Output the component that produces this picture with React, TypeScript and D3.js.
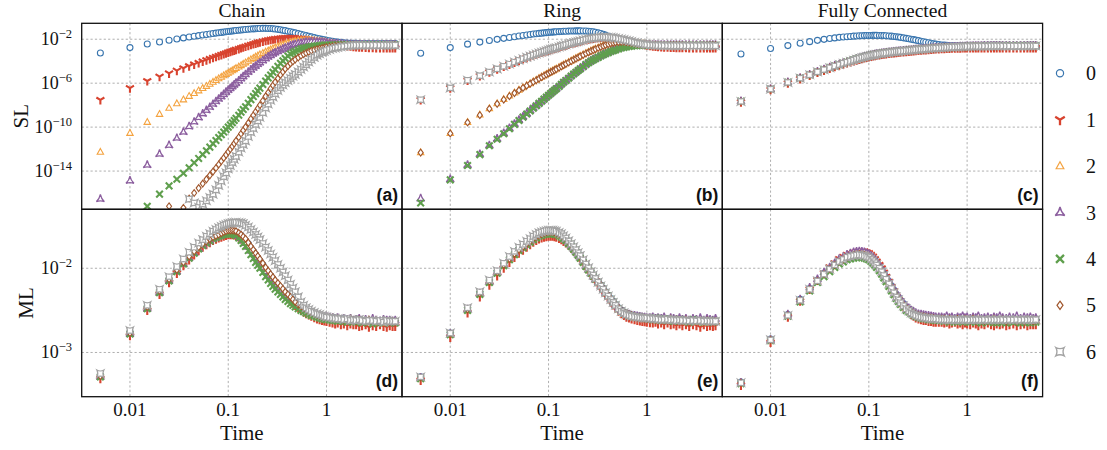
import React from 'react';
import * as d3 from 'd3';

// ---------------- data (log10 of the plotted quantity) ----------------
const TIMES = [0.005, 0.01, 0.015, 0.02, 0.025, 0.03, 0.035, 0.04, 0.045, 0.05,
  0.055, 0.06, 0.065, 0.07, 0.075, 0.08, 0.085, 0.09, 0.095, 0.1,
  0.105, 0.11, 0.115, 0.12, 0.128, 0.135, 0.142, 0.15, 0.16, 0.17,
  0.18, 0.19, 0.2, 0.21, 0.225, 0.24, 0.255, 0.27, 0.285, 0.3,
  0.32, 0.34, 0.36, 0.38, 0.405, 0.43, 0.455, 0.48, 0.515, 0.55,
  0.585, 0.62, 0.66, 0.7, 0.75, 0.8, 0.85, 0.9, 0.95, 1,
  1.075, 1.15, 1.225, 1.3, 1.4, 1.5, 1.625, 1.75, 1.875, 2,
  2.15, 2.3, 2.5, 2.7, 2.95, 3.2, 3.5, 3.8, 4.1, 4.4, 4.7, 5];

const SERIES_LABELS = ['0', '1', '2', '3', '4', '5', '6'];
const PANEL_TITLES = ['Chain', 'Ring', 'Fully Connected'];
const PANEL_TAGS = ['(a)', '(b)', '(c)', '(d)', '(e)', '(f)'];
const ROW_LABELS = ['SL', 'ML'];
const X_TICKS = [0.01, 0.1, 1];
const X_TICK_LABELS = ['0.01', '0.1', '1'];
const SL_TICK_EXPS = [-2, -6, -10, -14];
const ML_TICK_EXPS = [-2, -3];
const X_LABEL = 'Time';

// ---- SL, Chain ----
const SL_CHAIN_0 = [-3.25,-2.76,-2.43,-2.25,-2.09,-1.98,-1.88,-1.80,-1.73,-1.67,
  -1.62,-1.57,-1.52,-1.48,-1.44,-1.41,-1.38,-1.35,-1.32,-1.29,
  -1.27,-1.25,-1.23,-1.21,-1.185,-1.16,-1.14,-1.12,-1.09,-1.07,
  -1.055,-1.04,-1.03,-1.02,-1.01,-1.01,-1.02,-1.03,-1.05,-1.07,
  -1.10,-1.14,-1.18,-1.22,-1.27,-1.32,-1.37,-1.42,-1.49,-1.55,
  -1.61,-1.67,-1.73,-1.79,-1.85,-1.91,-1.96,-2.01,-2.05,-2.09,
  -2.14,-2.19,-2.23,-2.26,-2.29,-2.32,-2.34,-2.36,-2.37,-2.38,
  -2.385,-2.39,-2.395,-2.40,-2.40,-2.40,-2.40,-2.40,-2.40,-2.40,-2.40,-2.40];
const SL_CHAIN_1 = [-7.52,-6.45,-5.80,-5.40,-5.10,-4.85,-4.64,-4.45,-4.29,-4.15,
  -4.02,-3.90,-3.79,-3.68,-3.59,-3.50,-3.42,-3.34,-3.27,-3.20,
  -3.13,-3.07,-3.01,-2.95,-2.87,-2.80,-2.73,-2.66,-2.58,-2.50,
  -2.43,-2.37,-2.31,-2.26,-2.19,-2.13,-2.08,-2.04,-2.00,-1.97,
  -1.94,-1.91,-1.89,-1.88,-1.87,-1.87,-1.88,-1.89,-1.91,-1.94,
  -1.97,-2.00,-2.03,-2.07,-2.11,-2.16,-2.20,-2.24,-2.28,-2.31,
  -2.36,-2.41,-2.45,-2.49,-2.53,-2.57,-2.61,-2.64,-2.67,-2.69,
  -2.71,-2.73,-2.75,-2.76,-2.77,-2.78,-2.78,-2.78,-2.79,-2.79,-2.79,-2.79];
const SL_CHAIN_2 = [-12.27,-10.55,-9.55,-8.82,-8.27,-7.85,-7.50,-7.18,-6.92,-6.68,
  -6.47,-6.27,-6.08,-5.90,-5.74,-5.58,-5.44,-5.30,-5.18,-5.07,
  -4.96,-4.85,-4.75,-4.65,-4.51,-4.38,-4.26,-4.13,-3.99,-3.85,
  -3.72,-3.60,-3.50,-3.40,-3.27,-3.15,-3.04,-2.94,-2.85,-2.77,
  -2.67,-2.58,-2.50,-2.43,-2.35,-2.28,-2.22,-2.17,-2.12,-2.09,
  -2.08,-2.07,-2.08,-2.09,-2.11,-2.14,-2.17,-2.20,-2.23,-2.26,
  -2.30,-2.34,-2.37,-2.40,-2.43,-2.46,-2.48,-2.50,-2.52,-2.53,
  -2.535,-2.54,-2.545,-2.55,-2.55,-2.55,-2.55,-2.55,-2.55,-2.55,-2.55,-2.55];
const SL_CHAIN_3 = [-16.55,-14.88,-13.45,-12.45,-11.65,-11.00,-10.45,-9.95,-9.52,-9.13,
  -8.78,-8.47,-8.18,-7.91,-7.66,-7.43,-7.21,-7.01,-6.81,-6.63,
  -6.46,-6.30,-6.14,-5.99,-5.78,-5.58,-5.39,-5.20,-4.98,-4.78,
  -4.60,-4.43,-4.27,-4.13,-3.94,-3.76,-3.60,-3.46,-3.33,-3.22,
  -3.10,-2.99,-2.89,-2.80,-2.70,-2.60,-2.53,-2.46,-2.39,-2.33,
  -2.29,-2.26,-2.24,-2.23,-2.23,-2.24,-2.26,-2.28,-2.30,-2.32,
  -2.35,-2.38,-2.40,-2.42,-2.44,-2.46,-2.47,-2.48,-2.49,-2.50,
  -2.50,-2.50,-2.50,-2.50,-2.50,-2.50,-2.50,-2.50,-2.50,-2.50,-2.50,-2.50];
const SL_CHAIN_4 = [null,null,-17.2,-16.1,-15.35,-14.75,-14.2,-13.7,-13.25,-12.85,
  -12.49,-12.15,-11.82,-11.5,-11.22,-10.95,-10.70,-10.45,-10.22,-10.0,
  -9.80,-9.6,-9.40,-9.2,-8.92,-8.65,-8.40,-8.15,-7.82,-7.5,
  -7.22,-6.95,-6.70,-6.45,-6.12,-5.8,-5.52,-5.25,-5.0,-4.75,
  -4.47,-4.2,-3.97,-3.75,-3.54,-3.35,-3.22,-3.1,-2.98,-2.88,
  -2.81,-2.75,-2.70,-2.66,-2.63,-2.6,-2.58,-2.56,-2.54,-2.53,
  -2.52,-2.51,-2.505,-2.5,-2.5,-2.5,-2.5,-2.5,-2.5,-2.5,
  -2.5,-2.5,-2.5,-2.5,-2.5,-2.5,-2.5,-2.5,-2.5,-2.5,-2.5,-2.5];
const SL_CHAIN_5 = [null,null,null,null,-17.2,null,-17.35,-16.5,-16.0,-15.55,
  -15.14,-14.75,-14.39,-14.05,-13.72,-13.4,-13.09,-12.8,-12.52,-12.25,
  -12.0,-11.75,-11.5,-11.25,-10.92,-10.6,-10.3,-10.0,-9.62,-9.25,
  -8.92,-8.6,-8.3,-8.0,-7.6,-7.2,-6.85,-6.5,-6.2,-5.9,
  -5.57,-5.25,-4.97,-4.7,-4.45,-4.2,-4.02,-3.85,-3.67,-3.5,
  -3.37,-3.25,-3.15,-3.05,-2.97,-2.9,-2.85,-2.8,-2.76,-2.72,
  -2.68,-2.65,-2.62,-2.6,-2.58,-2.57,-2.56,-2.55,-2.55,-2.55,
  -2.55,-2.55,-2.55,-2.55,-2.55,-2.55,-2.55,-2.55,-2.55,-2.55,-2.55,-2.55];
const SL_CHAIN_6 = [null,null,null,null,null,null,null,-16.55,-16.9,-17.3,
  -17.0,-16.7,-16.4,-16.1,-15.7,-15.3,-14.9,-14.5,-14.15,-13.8,
  -13.5,-13.2,-12.92,-12.65,-12.27,-11.9,-11.57,-11.25,-10.85,-10.45,
  -10.1,-9.75,-9.42,-9.1,-8.67,-8.25,-7.9,-7.55,-7.25,-6.95,
  -6.67,-6.4,-6.17,-5.95,-5.75,-5.55,-5.37,-5.2,-4.97,-4.75,
  -4.52,-4.3,-4.07,-3.85,-3.65,-3.45,-3.32,-3.2,-3.11,-3.02,
  -2.93,-2.85,-2.79,-2.74,-2.69,-2.65,-2.61,-2.58,-2.56,-2.55,
  -2.55,-2.55,-2.55,-2.55,-2.55,-2.55,-2.55,-2.55,-2.55,-2.55,-2.55,-2.55];

// ---- SL, Ring ----
const SL_RING_0 = [-3.27,-2.76,-2.45,-2.26,-2.12,-2.01,-1.92,-1.84,-1.77,-1.71,
  -1.66,-1.61,-1.57,-1.53,-1.50,-1.47,-1.445,-1.42,-1.40,-1.38,
  -1.365,-1.35,-1.335,-1.32,-1.305,-1.29,-1.28,-1.27,-1.26,-1.25,
  -1.245,-1.24,-1.24,-1.24,-1.245,-1.25,-1.27,-1.29,-1.32,-1.36,
  -1.42,-1.48,-1.55,-1.63,-1.73,-1.83,-1.92,-2.01,-2.12,-2.22,
  -2.30,-2.36,-2.41,-2.46,-2.49,-2.52,-2.54,-2.55,-2.56,-2.57,
  -2.575,-2.58,-2.58,-2.58,-2.58,-2.58,-2.58,-2.58,-2.58,-2.58,
  -2.58,-2.58,-2.58,-2.58,-2.58,-2.58,-2.58,-2.58,-2.58,-2.58,-2.58,-2.58];
const SL_RING_1 = [-7.52,-6.45,-5.75,-5.33,-5.00,-4.72,-4.48,-4.28,-4.10,-3.94,
  -3.80,-3.67,-3.56,-3.46,-3.37,-3.28,-3.20,-3.13,-3.06,-3.00,
  -2.94,-2.89,-2.84,-2.79,-2.72,-2.65,-2.59,-2.53,-2.46,-2.39,
  -2.33,-2.27,-2.22,-2.17,-2.10,-2.04,-1.99,-1.95,-1.92,-1.89,
  -1.86,-1.84,-1.83,-1.83,-1.84,-1.85,-1.87,-1.90,-1.95,-2.00,
  -2.05,-2.11,-2.17,-2.23,-2.30,-2.36,-2.41,-2.46,-2.50,-2.54,
  -2.58,-2.62,-2.65,-2.67,-2.69,-2.71,-2.73,-2.74,-2.75,-2.76,
  -2.765,-2.77,-2.775,-2.78,-2.78,-2.78,-2.785,-2.79,-2.79,-2.79,-2.79,-2.79];
const SL_RING_2 = [-12.30,-10.55,-9.55,-8.88,-8.30,-7.85,-7.47,-7.15,-6.87,-6.62,
  -6.40,-6.20,-6.02,-5.85,-5.70,-5.55,-5.42,-5.29,-5.18,-5.07,
  -4.97,-4.87,-4.78,-4.69,-4.56,-4.44,-4.33,-4.22,-4.09,-3.96,
  -3.84,-3.73,-3.63,-3.53,-3.40,-3.27,-3.16,-3.05,-2.96,-2.87,
  -2.77,-2.67,-2.58,-2.50,-2.42,-2.35,-2.30,-2.26,-2.23,-2.22,
  -2.225,-2.24,-2.27,-2.30,-2.34,-2.38,-2.41,-2.44,-2.46,-2.48,
  -2.50,-2.52,-2.53,-2.54,-2.545,-2.55,-2.55,-2.55,-2.55,-2.55,
  -2.55,-2.55,-2.55,-2.55,-2.55,-2.55,-2.55,-2.55,-2.55,-2.55,-2.55,-2.55];
const SL_RING_3 = [-16.50,-14.75,-13.45,-12.46,-11.66,-11.06,-10.56,-10.11,-9.71,-9.36,
  -9.05,-8.76,-8.49,-8.24,-8.01,-7.80,-7.60,-7.41,-7.23,-7.06,
  -6.90,-6.74,-6.60,-6.46,-6.26,-6.06,-5.88,-5.71,-5.51,-5.31,
  -5.13,-4.96,-4.81,-4.66,-4.46,-4.26,-4.10,-3.96,-3.85,-3.74,
  -3.61,-3.48,-3.38,-3.28,-3.18,-3.08,-3.01,-2.94,-2.85,-2.77,
  -2.72,-2.67,-2.63,-2.60,-2.58,-2.56,-2.55,-2.54,-2.535,-2.53,
  -2.53,-2.53,-2.53,-2.53,-2.53,-2.53,-2.53,-2.53,-2.53,-2.53,
  -2.53,-2.53,-2.53,-2.53,-2.53,-2.53,-2.53,-2.53,-2.53,-2.53,-2.53,-2.53];
const SL_RING_4 = [-16.90,-14.80,-13.50,-12.50,-11.70,-11.10,-10.60,-10.15,-9.75,-9.40,
  -9.09,-8.80,-8.53,-8.28,-8.05,-7.84,-7.64,-7.45,-7.27,-7.10,
  -6.94,-6.78,-6.64,-6.50,-6.30,-6.10,-5.92,-5.75,-5.55,-5.35,
  -5.17,-5.00,-4.85,-4.70,-4.50,-4.30,-4.14,-4.00,-3.89,-3.78,
  -3.65,-3.52,-3.42,-3.32,-3.22,-3.12,-3.05,-2.98,-2.88,-2.80,
  -2.75,-2.70,-2.66,-2.63,-2.60,-2.58,-2.57,-2.56,-2.555,-2.55,
  -2.55,-2.55,-2.55,-2.55,-2.55,-2.55,-2.55,-2.55,-2.55,-2.55,
  -2.55,-2.55,-2.55,-2.55,-2.55,-2.55,-2.55,-2.55,-2.55,-2.55,-2.55,-2.55];
const SL_RING_5 = [-12.32,-10.58,-9.58,-8.91,-8.33,-7.88,-7.50,-7.18,-6.90,-6.65,
  -6.43,-6.23,-6.05,-5.88,-5.73,-5.58,-5.45,-5.32,-5.21,-5.10,
  -5.00,-4.90,-4.81,-4.72,-4.59,-4.47,-4.36,-4.25,-4.12,-3.99,
  -3.87,-3.76,-3.66,-3.56,-3.43,-3.30,-3.19,-3.08,-2.99,-2.90,
  -2.80,-2.70,-2.61,-2.53,-2.45,-2.38,-2.33,-2.29,-2.26,-2.25,
  -2.255,-2.27,-2.29,-2.32,-2.36,-2.40,-2.43,-2.46,-2.48,-2.50,
  -2.515,-2.53,-2.54,-2.55,-2.555,-2.56,-2.56,-2.56,-2.56,-2.56,
  -2.56,-2.56,-2.56,-2.56,-2.56,-2.56,-2.56,-2.56,-2.56,-2.56,-2.56,-2.56];
const SL_RING_6 = [-7.50,-6.43,-5.73,-5.31,-4.98,-4.70,-4.46,-4.26,-4.08,-3.92,
  -3.78,-3.65,-3.54,-3.44,-3.35,-3.26,-3.18,-3.11,-3.04,-2.98,
  -2.92,-2.87,-2.82,-2.77,-2.70,-2.63,-2.57,-2.51,-2.44,-2.37,
  -2.31,-2.25,-2.20,-2.15,-2.08,-2.02,-1.97,-1.93,-1.90,-1.87,
  -1.84,-1.82,-1.81,-1.81,-1.82,-1.83,-1.85,-1.88,-1.93,-1.98,
  -2.03,-2.09,-2.15,-2.21,-2.27,-2.33,-2.38,-2.42,-2.46,-2.49,
  -2.52,-2.54,-2.56,-2.57,-2.575,-2.58,-2.585,-2.59,-2.59,-2.59,
  -2.59,-2.59,-2.59,-2.59,-2.59,-2.59,-2.59,-2.59,-2.59,-2.59,-2.59,-2.59];

// ---- SL, Fully connected ----
const SL_FULL_0 = [-3.34,-2.85,-2.58,-2.37,-2.22,-2.10,-2.01,-1.94,-1.88,-1.83,
  -1.80,-1.77,-1.745,-1.72,-1.705,-1.69,-1.68,-1.67,-1.665,-1.66,
  -1.655,-1.65,-1.65,-1.65,-1.655,-1.66,-1.67,-1.68,-1.70,-1.72,
  -1.745,-1.77,-1.80,-1.83,-1.875,-1.92,-1.96,-2.00,-2.04,-2.08,
  -2.13,-2.18,-2.23,-2.27,-2.32,-2.37,-2.41,-2.45,-2.49,-2.52,
  -2.54,-2.56,-2.57,-2.58,-2.585,-2.59,-2.595,-2.60,-2.60,-2.60,
  -2.60,-2.60,-2.60,-2.60,-2.60,-2.60,-2.60,-2.60,-2.60,-2.60,
  -2.60,-2.60,-2.60,-2.60,-2.60,-2.60,-2.60,-2.60,-2.60,-2.60,-2.60,-2.60];
const SL_FULL_1 = [-7.72,-6.60,-5.99,-5.60,-5.30,-5.03,-4.83,-4.65,-4.50,-4.37,
  -4.26,-4.16,-4.07,-3.98,-3.90,-3.83,-3.76,-3.70,-3.65,-3.60,
  -3.56,-3.52,-3.49,-3.46,-3.425,-3.39,-3.36,-3.33,-3.30,-3.27,
  -3.245,-3.22,-3.20,-3.18,-3.155,-3.13,-3.105,-3.08,-3.06,-3.04,
  -3.02,-3.00,-2.98,-2.96,-2.94,-2.92,-2.905,-2.89,-2.875,-2.86,
  -2.85,-2.84,-2.83,-2.82,-2.815,-2.81,-2.805,-2.80,-2.795,-2.79,
  -2.785,-2.78,-2.78,-2.78,-2.78,-2.78,-2.78,-2.78,-2.78,-2.78,
  -2.78,-2.78,-2.78,-2.78,-2.78,-2.78,-2.78,-2.78,-2.78,-2.78,-2.78,-2.78];
const SL_FULL_2 = [-7.67,-6.55,-5.94,-5.55,-5.25,-4.98,-4.78,-4.60,-4.45,-4.32,
  -4.20,-4.10,-4.01,-3.92,-3.84,-3.77,-3.70,-3.64,-3.59,-3.54,
  -3.50,-3.46,-3.42,-3.39,-3.355,-3.32,-3.29,-3.26,-3.23,-3.20,
  -3.175,-3.15,-3.13,-3.11,-3.085,-3.06,-3.035,-3.01,-2.99,-2.97,
  -2.95,-2.93,-2.91,-2.89,-2.87,-2.85,-2.835,-2.82,-2.805,-2.79,
  -2.775,-2.76,-2.75,-2.74,-2.73,-2.72,-2.71,-2.70,-2.69,-2.68,
  -2.67,-2.66,-2.655,-2.65,-2.645,-2.64,-2.635,-2.63,-2.625,-2.62,
  -2.62,-2.62,-2.62,-2.62,-2.62,-2.62,-2.62,-2.62,-2.62,-2.62,-2.62,-2.62];
const SL_FULL_3 = [-7.64,-6.52,-5.91,-5.52,-5.22,-4.95,-4.75,-4.57,-4.42,-4.29,
  -4.17,-4.06,-3.97,-3.88,-3.80,-3.73,-3.66,-3.60,-3.55,-3.50,
  -3.46,-3.42,-3.38,-3.35,-3.315,-3.28,-3.25,-3.22,-3.19,-3.16,
  -3.135,-3.11,-3.09,-3.07,-3.045,-3.02,-2.995,-2.97,-2.95,-2.93,
  -2.91,-2.89,-2.87,-2.85,-2.83,-2.81,-2.795,-2.78,-2.765,-2.75,
  -2.735,-2.72,-2.71,-2.70,-2.69,-2.68,-2.67,-2.66,-2.65,-2.64,
  -2.63,-2.62,-2.615,-2.61,-2.605,-2.60,-2.595,-2.59,-2.585,-2.58,
  -2.58,-2.58,-2.58,-2.58,-2.58,-2.58,-2.58,-2.58,-2.58,-2.58,-2.58,-2.58];
const SL_FULL_4 = [-7.65,-6.53,-5.92,-5.53,-5.23,-4.96,-4.76,-4.58,-4.43,-4.30,
  -4.18,-4.07,-3.98,-3.89,-3.81,-3.74,-3.67,-3.61,-3.56,-3.51,
  -3.47,-3.43,-3.39,-3.36,-3.325,-3.29,-3.26,-3.23,-3.20,-3.17,
  -3.145,-3.12,-3.10,-3.08,-3.055,-3.03,-3.005,-2.98,-2.96,-2.94,
  -2.92,-2.90,-2.88,-2.86,-2.84,-2.82,-2.805,-2.79,-2.775,-2.76,
  -2.745,-2.73,-2.72,-2.71,-2.70,-2.69,-2.68,-2.67,-2.66,-2.65,
  -2.64,-2.63,-2.625,-2.62,-2.615,-2.61,-2.605,-2.60,-2.595,-2.59,
  -2.59,-2.59,-2.59,-2.59,-2.59,-2.59,-2.59,-2.59,-2.59,-2.59,-2.59,-2.59];
const SL_FULL_5 = [-7.68,-6.56,-5.95,-5.56,-5.26,-4.99,-4.79,-4.61,-4.46,-4.33,
  -4.21,-4.11,-4.02,-3.93,-3.85,-3.78,-3.71,-3.65,-3.60,-3.55,
  -3.51,-3.47,-3.43,-3.40,-3.365,-3.33,-3.30,-3.27,-3.24,-3.21,
  -3.185,-3.16,-3.14,-3.12,-3.095,-3.07,-3.045,-3.02,-3.00,-2.98,
  -2.96,-2.94,-2.92,-2.90,-2.88,-2.86,-2.845,-2.83,-2.815,-2.80,
  -2.785,-2.77,-2.76,-2.75,-2.74,-2.73,-2.72,-2.71,-2.70,-2.69,
  -2.68,-2.67,-2.665,-2.66,-2.655,-2.65,-2.645,-2.64,-2.635,-2.63,
  -2.63,-2.63,-2.63,-2.63,-2.63,-2.63,-2.63,-2.63,-2.63,-2.63,-2.63,-2.63];
const SL_FULL_6 = [-7.66,-6.54,-5.93,-5.54,-5.24,-4.97,-4.77,-4.59,-4.44,-4.31,
  -4.19,-4.09,-4.00,-3.91,-3.83,-3.76,-3.69,-3.63,-3.58,-3.53,
  -3.49,-3.45,-3.41,-3.38,-3.345,-3.31,-3.28,-3.25,-3.22,-3.19,
  -3.165,-3.14,-3.12,-3.10,-3.075,-3.05,-3.025,-3.00,-2.98,-2.96,
  -2.94,-2.92,-2.90,-2.88,-2.86,-2.84,-2.825,-2.81,-2.795,-2.78,
  -2.765,-2.75,-2.735,-2.72,-2.71,-2.70,-2.69,-2.68,-2.67,-2.66,
  -2.655,-2.65,-2.645,-2.64,-2.635,-2.63,-2.625,-2.62,-2.62,-2.62,
  -2.62,-2.62,-2.62,-2.62,-2.62,-2.62,-2.62,-2.62,-2.62,-2.62,-2.62,-2.62];

// ---- ML, Chain ----
const ML_CHAIN_0 = [-3.27,-2.76,-2.46,-2.27,-2.13,-2.02,-1.93,-1.86,-1.80,-1.75,
  -1.71,-1.68,-1.65,-1.63,-1.61,-1.60,-1.59,-1.58,-1.575,-1.57,
  -1.565,-1.56,-1.565,-1.57,-1.59,-1.61,-1.64,-1.67,-1.71,-1.76,
  -1.80,-1.84,-1.875,-1.91,-1.96,-2.01,-2.05,-2.09,-2.125,-2.16,
  -2.195,-2.23,-2.26,-2.29,-2.32,-2.35,-2.375,-2.40,-2.43,-2.45,
  -2.47,-2.49,-2.505,-2.52,-2.535,-2.55,-2.56,-2.57,-2.575,-2.58,
  -2.59,-2.585,-2.60,-2.60,-2.61,-2.60,-2.62,-2.61,-2.615,-2.62,
  -2.61,-2.63,-2.62,-2.62,-2.64,-2.62,-2.63,-2.63,-2.64,-2.62,-2.64,-2.64];
const ML_CHAIN_1 = [-3.31,-2.80,-2.50,-2.31,-2.17,-2.06,-1.97,-1.90,-1.84,-1.79,
  -1.75,-1.72,-1.695,-1.67,-1.655,-1.64,-1.63,-1.62,-1.61,-1.60,
  -1.60,-1.60,-1.605,-1.61,-1.63,-1.65,-1.68,-1.71,-1.75,-1.80,
  -1.84,-1.88,-1.915,-1.95,-2.00,-2.05,-2.09,-2.13,-2.165,-2.20,
  -2.235,-2.27,-2.30,-2.33,-2.36,-2.39,-2.415,-2.44,-2.47,-2.50,
  -2.52,-2.54,-2.555,-2.57,-2.585,-2.60,-2.61,-2.62,-2.625,-2.63,
  -2.64,-2.65,-2.66,-2.65,-2.67,-2.66,-2.68,-2.66,-2.67,-2.67,
  -2.69,-2.68,-2.67,-2.70,-2.68,-2.69,-2.67,-2.69,-2.70,-2.68,-2.69,-2.69];
const ML_CHAIN_2 = [-3.28,-2.77,-2.47,-2.28,-2.14,-2.03,-1.94,-1.87,-1.81,-1.76,
  -1.72,-1.69,-1.66,-1.64,-1.62,-1.61,-1.60,-1.59,-1.58,-1.57,
  -1.57,-1.57,-1.575,-1.58,-1.60,-1.62,-1.65,-1.68,-1.72,-1.77,
  -1.81,-1.85,-1.885,-1.92,-1.97,-2.02,-2.06,-2.10,-2.135,-2.17,
  -2.205,-2.24,-2.27,-2.30,-2.33,-2.36,-2.385,-2.41,-2.44,-2.46,
  -2.48,-2.50,-2.515,-2.53,-2.545,-2.56,-2.57,-2.58,-2.585,-2.59,
  -2.60,-2.595,-2.61,-2.60,-2.62,-2.61,-2.63,-2.61,-2.62,-2.63,
  -2.62,-2.64,-2.62,-2.63,-2.65,-2.62,-2.64,-2.63,-2.65,-2.63,-2.64,-2.64];
const ML_CHAIN_3 = [-3.29,-2.78,-2.48,-2.29,-2.15,-2.04,-1.95,-1.88,-1.82,-1.77,
  -1.73,-1.70,-1.675,-1.65,-1.635,-1.62,-1.605,-1.59,-1.585,-1.58,
  -1.58,-1.58,-1.585,-1.59,-1.615,-1.64,-1.67,-1.70,-1.745,-1.79,
  -1.83,-1.87,-1.905,-1.94,-1.99,-2.04,-2.08,-2.12,-2.155,-2.19,
  -2.225,-2.26,-2.29,-2.32,-2.345,-2.37,-2.395,-2.42,-2.44,-2.46,
  -2.48,-2.50,-2.515,-2.53,-2.54,-2.55,-2.56,-2.57,-2.575,-2.58,
  -2.585,-2.59,-2.60,-2.59,-2.61,-2.60,-2.61,-2.60,-2.62,-2.61,
  -2.60,-2.62,-2.61,-2.62,-2.60,-2.62,-2.63,-2.61,-2.62,-2.62,-2.63,-2.62];
const ML_CHAIN_4 = [-3.29,-2.78,-2.48,-2.29,-2.15,-2.04,-1.95,-1.88,-1.82,-1.77,
  -1.73,-1.70,-1.675,-1.65,-1.635,-1.62,-1.61,-1.60,-1.595,-1.59,
  -1.59,-1.59,-1.60,-1.61,-1.64,-1.67,-1.705,-1.74,-1.79,-1.84,
  -1.885,-1.93,-1.965,-2.00,-2.05,-2.10,-2.14,-2.18,-2.215,-2.25,
  -2.28,-2.31,-2.34,-2.37,-2.395,-2.42,-2.44,-2.46,-2.48,-2.50,
  -2.515,-2.53,-2.545,-2.56,-2.57,-2.58,-2.59,-2.60,-2.605,-2.61,
  -2.615,-2.62,-2.62,-2.63,-2.62,-2.63,-2.64,-2.62,-2.63,-2.64,
  -2.63,-2.65,-2.63,-2.64,-2.66,-2.64,-2.64,-2.65,-2.63,-2.65,-2.64,-2.65];
const ML_CHAIN_5 = [-3.28,-2.77,-2.46,-2.27,-2.13,-2.02,-1.93,-1.86,-1.80,-1.75,
  -1.71,-1.68,-1.655,-1.63,-1.615,-1.60,-1.585,-1.57,-1.56,-1.55,
  -1.55,-1.55,-1.555,-1.56,-1.58,-1.60,-1.625,-1.65,-1.695,-1.74,
  -1.78,-1.82,-1.855,-1.89,-1.94,-1.99,-2.03,-2.07,-2.105,-2.14,
  -2.175,-2.21,-2.245,-2.28,-2.31,-2.34,-2.37,-2.40,-2.43,-2.45,
  -2.47,-2.49,-2.505,-2.52,-2.535,-2.55,-2.56,-2.57,-2.575,-2.58,
  -2.585,-2.59,-2.60,-2.60,-2.61,-2.61,-2.62,-2.60,-2.62,-2.62,
  -2.61,-2.62,-2.63,-2.61,-2.63,-2.62,-2.64,-2.62,-2.63,-2.64,-2.63,-2.64];
const ML_CHAIN_6 = [-3.25,-2.74,-2.44,-2.25,-2.10,-1.98,-1.89,-1.81,-1.75,-1.70,
  -1.66,-1.62,-1.59,-1.56,-1.54,-1.52,-1.505,-1.49,-1.48,-1.47,
  -1.465,-1.46,-1.457,-1.455,-1.456,-1.46,-1.47,-1.49,-1.51,-1.54,
  -1.57,-1.60,-1.63,-1.66,-1.705,-1.75,-1.79,-1.83,-1.87,-1.91,
  -1.955,-2.00,-2.045,-2.09,-2.14,-2.19,-2.235,-2.28,-2.34,-2.40,
  -2.44,-2.47,-2.49,-2.51,-2.525,-2.54,-2.55,-2.56,-2.57,-2.58,
  -2.585,-2.59,-2.595,-2.60,-2.60,-2.61,-2.60,-2.62,-2.61,-2.62,
  -2.61,-2.62,-2.63,-2.62,-2.62,-2.63,-2.62,-2.64,-2.62,-2.63,-2.63,-2.63];

// ---- ML, Ring ----
const ML_RING_0 = [-3.29,-2.77,-2.48,-2.29,-2.15,-2.04,-1.95,-1.88,-1.82,-1.77,
  -1.735,-1.70,-1.67,-1.64,-1.62,-1.60,-1.59,-1.58,-1.575,-1.57,
  -1.57,-1.57,-1.575,-1.58,-1.595,-1.61,-1.63,-1.65,-1.685,-1.72,
  -1.755,-1.79,-1.825,-1.86,-1.91,-1.96,-2.005,-2.05,-2.085,-2.12,
  -2.16,-2.20,-2.24,-2.28,-2.32,-2.36,-2.395,-2.43,-2.47,-2.50,
  -2.52,-2.54,-2.55,-2.56,-2.565,-2.57,-2.575,-2.58,-2.585,-2.59,
  -2.59,-2.60,-2.59,-2.61,-2.60,-2.61,-2.60,-2.62,-2.61,-2.61,
  -2.62,-2.61,-2.63,-2.62,-2.61,-2.63,-2.62,-2.64,-2.62,-2.63,-2.62,-2.63];
const ML_RING_1 = [-3.33,-2.82,-2.53,-2.34,-2.20,-2.09,-2.00,-1.93,-1.87,-1.82,
  -1.785,-1.75,-1.72,-1.69,-1.67,-1.65,-1.64,-1.63,-1.625,-1.62,
  -1.62,-1.62,-1.625,-1.63,-1.645,-1.66,-1.68,-1.70,-1.73,-1.76,
  -1.795,-1.83,-1.865,-1.90,-1.945,-1.99,-2.035,-2.08,-2.115,-2.15,
  -2.195,-2.24,-2.28,-2.32,-2.36,-2.40,-2.435,-2.47,-2.51,-2.54,
  -2.56,-2.58,-2.59,-2.60,-2.61,-2.62,-2.625,-2.63,-2.635,-2.64,
  -2.645,-2.65,-2.64,-2.66,-2.65,-2.67,-2.65,-2.67,-2.66,-2.68,
  -2.66,-2.68,-2.67,-2.69,-2.67,-2.68,-2.70,-2.67,-2.69,-2.68,-2.69,-2.68];
const ML_RING_2 = [-3.30,-2.78,-2.49,-2.30,-2.16,-2.05,-1.96,-1.89,-1.83,-1.78,
  -1.745,-1.71,-1.68,-1.65,-1.63,-1.61,-1.60,-1.59,-1.585,-1.58,
  -1.58,-1.58,-1.585,-1.59,-1.605,-1.62,-1.64,-1.66,-1.695,-1.73,
  -1.765,-1.80,-1.835,-1.87,-1.92,-1.97,-2.015,-2.06,-2.095,-2.13,
  -2.17,-2.21,-2.25,-2.29,-2.33,-2.37,-2.405,-2.44,-2.48,-2.51,
  -2.53,-2.55,-2.56,-2.57,-2.575,-2.58,-2.585,-2.59,-2.595,-2.60,
  -2.60,-2.61,-2.60,-2.62,-2.61,-2.62,-2.61,-2.63,-2.62,-2.62,
  -2.63,-2.62,-2.64,-2.63,-2.62,-2.64,-2.63,-2.65,-2.63,-2.64,-2.63,-2.64];
const ML_RING_3 = [-3.30,-2.78,-2.49,-2.30,-2.16,-2.05,-1.96,-1.88,-1.82,-1.77,
  -1.735,-1.70,-1.67,-1.64,-1.62,-1.60,-1.59,-1.58,-1.575,-1.57,
  -1.57,-1.57,-1.575,-1.58,-1.595,-1.61,-1.635,-1.66,-1.695,-1.73,
  -1.765,-1.80,-1.835,-1.87,-1.92,-1.97,-2.015,-2.06,-2.095,-2.13,
  -2.17,-2.21,-2.25,-2.29,-2.33,-2.37,-2.405,-2.44,-2.47,-2.50,
  -2.52,-2.54,-2.55,-2.56,-2.565,-2.57,-2.575,-2.58,-2.585,-2.59,
  -2.59,-2.58,-2.60,-2.59,-2.60,-2.58,-2.61,-2.59,-2.60,-2.61,
  -2.59,-2.61,-2.60,-2.62,-2.60,-2.61,-2.59,-2.62,-2.60,-2.61,-2.62,-2.60];
const ML_RING_4 = [-3.31,-2.79,-2.50,-2.31,-2.17,-2.06,-1.97,-1.90,-1.84,-1.79,
  -1.755,-1.72,-1.69,-1.66,-1.64,-1.62,-1.61,-1.60,-1.595,-1.59,
  -1.59,-1.59,-1.595,-1.60,-1.615,-1.63,-1.65,-1.67,-1.705,-1.74,
  -1.775,-1.81,-1.845,-1.88,-1.93,-1.98,-2.02,-2.06,-2.095,-2.13,
  -2.17,-2.21,-2.25,-2.29,-2.33,-2.37,-2.405,-2.44,-2.48,-2.51,
  -2.53,-2.55,-2.56,-2.57,-2.575,-2.58,-2.585,-2.59,-2.595,-2.60,
  -2.60,-2.61,-2.59,-2.61,-2.62,-2.60,-2.62,-2.61,-2.63,-2.62,
  -2.61,-2.63,-2.62,-2.64,-2.61,-2.63,-2.62,-2.64,-2.63,-2.62,-2.64,-2.63];
const ML_RING_5 = [-3.30,-2.78,-2.49,-2.30,-2.16,-2.05,-1.96,-1.89,-1.83,-1.78,
  -1.745,-1.71,-1.68,-1.65,-1.63,-1.61,-1.595,-1.58,-1.575,-1.57,
  -1.57,-1.57,-1.575,-1.58,-1.595,-1.61,-1.63,-1.65,-1.685,-1.72,
  -1.755,-1.79,-1.825,-1.86,-1.91,-1.96,-2.005,-2.05,-2.085,-2.12,
  -2.16,-2.20,-2.24,-2.28,-2.32,-2.36,-2.395,-2.43,-2.47,-2.50,
  -2.52,-2.54,-2.55,-2.56,-2.57,-2.58,-2.585,-2.59,-2.595,-2.60,
  -2.60,-2.61,-2.60,-2.61,-2.62,-2.61,-2.62,-2.60,-2.62,-2.61,
  -2.62,-2.63,-2.61,-2.63,-2.62,-2.63,-2.62,-2.64,-2.62,-2.63,-2.63,-2.63];
const ML_RING_6 = [-3.29,-2.77,-2.47,-2.28,-2.14,-2.03,-1.94,-1.86,-1.80,-1.75,
  -1.715,-1.68,-1.65,-1.62,-1.60,-1.58,-1.57,-1.56,-1.555,-1.55,
  -1.55,-1.55,-1.555,-1.56,-1.575,-1.59,-1.615,-1.64,-1.675,-1.71,
  -1.745,-1.78,-1.815,-1.85,-1.90,-1.95,-1.995,-2.04,-2.08,-2.12,
  -2.165,-2.21,-2.25,-2.29,-2.33,-2.37,-2.405,-2.44,-2.48,-2.51,
  -2.53,-2.55,-2.56,-2.57,-2.575,-2.58,-2.585,-2.59,-2.59,-2.59,
  -2.595,-2.60,-2.60,-2.605,-2.61,-2.61,-2.605,-2.615,-2.61,-2.62,
  -2.615,-2.62,-2.62,-2.625,-2.62,-2.625,-2.62,-2.63,-2.625,-2.63,-2.63,-2.63];

// ---- ML, Fully connected ----
const ML_FULL_0 = [-3.35,-2.84,-2.55,-2.37,-2.24,-2.14,-2.06,-2.00,-1.95,-1.91,
  -1.885,-1.86,-1.845,-1.83,-1.825,-1.82,-1.82,-1.82,-1.83,-1.84,
  -1.86,-1.88,-1.905,-1.93,-1.97,-2.01,-2.055,-2.10,-2.155,-2.21,
  -2.26,-2.31,-2.345,-2.38,-2.42,-2.46,-2.485,-2.51,-2.525,-2.54,
  -2.55,-2.56,-2.565,-2.57,-2.575,-2.58,-2.585,-2.59,-2.59,-2.59,
  -2.60,-2.59,-2.61,-2.59,-2.60,-2.61,-2.59,-2.61,-2.60,-2.61,
  -2.60,-2.62,-2.60,-2.61,-2.62,-2.60,-2.62,-2.61,-2.62,-2.60,
  -2.62,-2.61,-2.63,-2.60,-2.62,-2.61,-2.63,-2.61,-2.62,-2.61,-2.63,-2.61];
const ML_FULL_1 = [-3.39,-2.88,-2.58,-2.39,-2.25,-2.14,-2.06,-1.99,-1.94,-1.89,
  -1.865,-1.84,-1.825,-1.81,-1.805,-1.80,-1.80,-1.80,-1.81,-1.82,
  -1.84,-1.86,-1.89,-1.92,-1.96,-2.00,-2.05,-2.10,-2.16,-2.22,
  -2.275,-2.33,-2.37,-2.41,-2.455,-2.50,-2.525,-2.55,-2.57,-2.59,
  -2.60,-2.61,-2.62,-2.62,-2.63,-2.63,-2.64,-2.64,-2.64,-2.64,
  -2.65,-2.64,-2.66,-2.65,-2.64,-2.66,-2.65,-2.67,-2.65,-2.66,
  -2.67,-2.65,-2.66,-2.68,-2.66,-2.67,-2.65,-2.67,-2.68,-2.66,
  -2.67,-2.66,-2.68,-2.67,-2.66,-2.68,-2.67,-2.66,-2.68,-2.67,-2.67,-2.67];
const ML_FULL_2 = [-3.36,-2.85,-2.56,-2.38,-2.25,-2.15,-2.07,-2.01,-1.96,-1.92,
  -1.895,-1.87,-1.855,-1.84,-1.835,-1.83,-1.83,-1.83,-1.84,-1.85,
  -1.87,-1.89,-1.915,-1.94,-1.98,-2.02,-2.065,-2.11,-2.165,-2.22,
  -2.27,-2.32,-2.355,-2.39,-2.43,-2.47,-2.495,-2.52,-2.535,-2.55,
  -2.56,-2.57,-2.575,-2.58,-2.585,-2.59,-2.595,-2.60,-2.60,-2.60,
  -2.61,-2.60,-2.62,-2.60,-2.61,-2.62,-2.60,-2.62,-2.61,-2.62,
  -2.61,-2.63,-2.61,-2.62,-2.63,-2.61,-2.63,-2.62,-2.63,-2.61,
  -2.63,-2.62,-2.64,-2.61,-2.63,-2.62,-2.64,-2.62,-2.63,-2.62,-2.64,-2.62];
const ML_FULL_3 = [-3.36,-2.85,-2.55,-2.37,-2.23,-2.13,-2.05,-1.99,-1.94,-1.89,
  -1.865,-1.84,-1.825,-1.81,-1.805,-1.80,-1.805,-1.81,-1.82,-1.83,
  -1.85,-1.87,-1.895,-1.92,-1.96,-2.00,-2.045,-2.09,-2.145,-2.20,
  -2.25,-2.30,-2.335,-2.37,-2.41,-2.45,-2.475,-2.50,-2.515,-2.53,
  -2.545,-2.55,-2.555,-2.56,-2.565,-2.57,-2.575,-2.58,-2.58,-2.58,
  -2.59,-2.57,-2.59,-2.58,-2.60,-2.58,-2.59,-2.57,-2.59,-2.58,
  -2.60,-2.58,-2.59,-2.57,-2.60,-2.59,-2.58,-2.60,-2.58,-2.59,
  -2.57,-2.59,-2.60,-2.58,-2.59,-2.57,-2.60,-2.58,-2.59,-2.58,-2.60,-2.59];
const ML_FULL_4 = [-3.37,-2.86,-2.57,-2.40,-2.27,-2.17,-2.10,-2.04,-1.99,-1.95,
  -1.925,-1.90,-1.89,-1.88,-1.875,-1.87,-1.875,-1.88,-1.89,-1.90,
  -1.92,-1.94,-1.965,-1.99,-2.03,-2.07,-2.115,-2.16,-2.215,-2.27,
  -2.315,-2.36,-2.395,-2.43,-2.465,-2.50,-2.52,-2.54,-2.555,-2.57,
  -2.58,-2.59,-2.60,-2.60,-2.61,-2.61,-2.615,-2.62,-2.62,-2.62,
  -2.63,-2.62,-2.64,-2.62,-2.63,-2.64,-2.62,-2.64,-2.63,-2.63,
  -2.64,-2.62,-2.64,-2.63,-2.65,-2.63,-2.64,-2.62,-2.64,-2.65,
  -2.63,-2.64,-2.65,-2.63,-2.64,-2.63,-2.65,-2.64,-2.63,-2.65,-2.64,-2.64];
const ML_FULL_5 = [-3.36,-2.85,-2.56,-2.38,-2.25,-2.15,-2.07,-2.01,-1.96,-1.92,
  -1.895,-1.87,-1.855,-1.84,-1.835,-1.83,-1.835,-1.84,-1.85,-1.86,
  -1.88,-1.90,-1.925,-1.95,-1.99,-2.03,-2.075,-2.12,-2.175,-2.23,
  -2.28,-2.33,-2.365,-2.40,-2.435,-2.47,-2.495,-2.52,-2.535,-2.55,
  -2.56,-2.57,-2.575,-2.58,-2.585,-2.59,-2.595,-2.60,-2.60,-2.60,
  -2.60,-2.62,-2.60,-2.61,-2.62,-2.60,-2.61,-2.62,-2.60,-2.61,
  -2.62,-2.60,-2.62,-2.61,-2.62,-2.63,-2.61,-2.62,-2.60,-2.62,
  -2.62,-2.61,-2.63,-2.62,-2.61,-2.63,-2.62,-2.63,-2.61,-2.62,-2.63,-2.62];
const ML_FULL_6 = [-3.36,-2.85,-2.56,-2.38,-2.25,-2.15,-2.07,-2.01,-1.96,-1.92,
  -1.895,-1.87,-1.86,-1.85,-1.845,-1.84,-1.845,-1.85,-1.86,-1.87,
  -1.89,-1.91,-1.935,-1.96,-2.00,-2.04,-2.085,-2.13,-2.185,-2.24,
  -2.29,-2.34,-2.375,-2.41,-2.445,-2.48,-2.505,-2.53,-2.545,-2.56,
  -2.57,-2.58,-2.585,-2.59,-2.595,-2.60,-2.60,-2.60,-2.605,-2.61,
  -2.61,-2.61,-2.615,-2.61,-2.615,-2.61,-2.615,-2.61,-2.615,-2.61,
  -2.615,-2.61,-2.615,-2.61,-2.615,-2.61,-2.615,-2.61,-2.615,-2.61,
  -2.615,-2.61,-2.615,-2.61,-2.615,-2.61,-2.615,-2.61,-2.615,-2.61,-2.615,-2.61];

// ---------------- styling / layout ----------------
const COLORS = ['#3a76af', '#d8432f', '#f4a340', '#8c5f9f', '#5f9f4d', '#a0562c', '#a3a3a3'];
const W = 1107, H = 450;
const COL_LEFT = [81.7, 402.0, 722.3];
const COL_W = 320.3;
const ROW_TOP = [23.3, 209.3];
const ROW_BOTTOM = [209.3, 396.7];
const X_DOMAIN = [Math.pow(10, -2.491), Math.pow(10, 0.768)];
const SL_DOMAIN = [Math.pow(10, -17.48), Math.pow(10, -0.55)];
const ML_DOMAIN = [Math.pow(10, -3.525), Math.pow(10, -1.30)];
const SERIF = "'Liberation Serif', 'Times New Roman', serif";
const SANS = "'Liberation Sans', Arial, sans-serif";

type MarkerSpec = { d: string; fill: string; sw: number; };
function marker(k: number, s = 1): MarkerSpec {
  const f = (v: number) => (v * s).toFixed(2);
  switch (k) {
    case 0: {
      const r = 3 * s;
      return { d: `M${-r},0a${r},${r} 0 1,0 ${2 * r},0a${r},${r} 0 1,0 ${-2 * r},0Z`, fill: '#fff', sw: 1.1 };
    }
    case 1:
      return { d: `M0,0L0,${f(4.6)}M0,0L${f(-4)},${f(-2.4)}M0,0L${f(4)},${f(-2.4)}`, fill: 'none', sw: 2.1 };
    case 2:
      return { d: `M0,${f(-3.6)}L${f(3.2)},${f(2.2)}L${f(-3.2)},${f(2.2)}Z`, fill: '#fff', sw: 1.1 };
    case 3:
      return { d: `M0,${f(-4.6)}Q${f(0.8)},${f(-0.4)} ${f(4)},${f(2.6)}Q0,${f(1.0)} ${f(-4)},${f(2.6)}Q${f(-0.8)},${f(-0.4)} 0,${f(-4.6)}Z`, fill: '#fff', sw: 1.3 };
    case 4:
      return { d: `M${f(-3.3)},${f(-3.3)}L${f(3.3)},${f(3.3)}M${f(-3.3)},${f(3.3)}L${f(3.3)},${f(-3.3)}`, fill: 'none', sw: 2.1 };
    case 5:
      return { d: `M0,${f(-3.4)}L${f(2.5)},0L0,${f(3.4)}L${f(-2.5)},0Z`, fill: '#fff', sw: 1.1 };
    default:
      return { d: `M${f(-3.5)},${f(-3.5)}Q0,${f(-1.6)} ${f(3.5)},${f(-3.5)}Q${f(1.6)},0 ${f(3.5)},${f(3.5)}Q0,${f(1.6)} ${f(-3.5)},${f(3.5)}Q${f(-1.6)},0 ${f(-3.5)},${f(-3.5)}Z`, fill: '#fff', sw: 1.2 };
  }
}

const PANELS = [
  { row: 0, col: 0, series: [SL_CHAIN_0, SL_CHAIN_1, SL_CHAIN_2, SL_CHAIN_3, SL_CHAIN_4, SL_CHAIN_5, SL_CHAIN_6] },
  { row: 0, col: 1, series: [SL_RING_0, SL_RING_1, SL_RING_2, SL_RING_3, SL_RING_4, SL_RING_5, SL_RING_6] },
  { row: 0, col: 2, series: [SL_FULL_0, SL_FULL_1, SL_FULL_2, SL_FULL_3, SL_FULL_4, SL_FULL_5, SL_FULL_6] },
  { row: 1, col: 0, series: [ML_CHAIN_0, ML_CHAIN_1, ML_CHAIN_2, ML_CHAIN_3, ML_CHAIN_4, ML_CHAIN_5, ML_CHAIN_6] },
  { row: 1, col: 1, series: [ML_RING_0, ML_RING_1, ML_RING_2, ML_RING_3, ML_RING_4, ML_RING_5, ML_RING_6] },
  { row: 1, col: 2, series: [ML_FULL_0, ML_FULL_1, ML_FULL_2, ML_FULL_3, ML_FULL_4, ML_FULL_5, ML_FULL_6] },
];

function Panel({ p, idx }: { p: typeof PANELS[number]; idx: number }) {
  const left = COL_LEFT[p.col];
  const top = ROW_TOP[p.row];
  const bottom = ROW_BOTTOM[p.row];
  const x = d3.scaleLog().domain(X_DOMAIN).range([left, left + COL_W]);
  const y = d3.scaleLog().domain(p.row === 0 ? SL_DOMAIN : ML_DOMAIN).range([bottom, top]);
  const exps = p.row === 0 ? SL_TICK_EXPS : ML_TICK_EXPS;
  const clipId = `clip-${idx}`;
  return (
    <g>
      <defs>
        <clipPath id={clipId}>
          <rect x={left} y={top} width={COL_W} height={bottom - top} />
        </clipPath>
      </defs>
      {X_TICKS.map((t) => (
        <line key={'gx' + t} x1={x(t)} x2={x(t)} y1={top} y2={bottom}
          stroke="#9b9b9b" strokeWidth={0.8} strokeDasharray="2.2,2.2" />
      ))}
      {exps.map((e) => (
        <line key={'gy' + e} x1={left} x2={left + COL_W} y1={y(Math.pow(10, e))} y2={y(Math.pow(10, e))}
          stroke="#9b9b9b" strokeWidth={0.8} strokeDasharray="2.2,2.2" />
      ))}
      <g clipPath={`url(#${clipId})`}>
        {p.series.map((vals, k) => {
          const m = marker(k);
          const n = Math.min(vals.length, TIMES.length);
          const pts: any[] = [];
          for (let i = 0; i < n; i++) {
            const v = vals[i];
            if (v === null || v === undefined) continue;
            const px = x(TIMES[i]);
            const py = y(Math.pow(10, v as number));
            pts.push(<path key={i} d={m.d} transform={`translate(${px.toFixed(2)},${py.toFixed(2)})`} />);
          }
          return (
            <g key={k} fill={m.fill} stroke={COLORS[k]} strokeWidth={m.sw}>
              {pts}
            </g>
          );
        })}
      </g>
      <rect x={left} y={top} width={COL_W} height={bottom - top} fill="none" stroke="#111" strokeWidth={1.3} />
      <text x={left + COL_W - 4} y={bottom - (p.row === 0 ? 8 : 10)} textAnchor="end"
        style={{ fontFamily: SANS }} fontWeight="bold" fontSize={17.5} fill="#111">
        {PANEL_TAGS[idx]}
      </text>
      {p.row === 0 && (
        <text x={left + COL_W / 2} y={16.5} textAnchor="middle" style={{ fontFamily: SERIF }} fontSize={19.5} fill="#111">
          {PANEL_TITLES[p.col]}
        </text>
      )}
      {p.row === 1 && X_TICKS.map((t, i) => (
        <text key={'xt' + t} x={x(t)} y={415.5} textAnchor="middle" style={{ fontFamily: SERIF }} fontSize={19} fill="#111">
          {X_TICK_LABELS[i]}
        </text>
      ))}
      {p.row === 1 && (
        <text x={left + COL_W / 2} y={440} textAnchor="middle" style={{ fontFamily: SERIF }} fontSize={21} fill="#111">
          {X_LABEL}
        </text>
      )}
      {p.col === 0 && exps.map((e) => (
        <text key={'yt' + e} x={72} y={y(Math.pow(10, e)) + 6} textAnchor="end" style={{ fontFamily: SERIF }} fontSize={18} fill="#111">
          <tspan>10</tspan>
          <tspan dy={-7.5} fontSize={12.5}>{'\u2212' + Math.abs(e)}</tspan>
        </text>
      ))}
      {p.col === 0 && (
        <text transform={`translate(${p.row === 0 ? 28 : 33},${(top + bottom) / 2}) rotate(-90)`} textAnchor="middle"
          style={{ fontFamily: SERIF }} fontSize={21} fill="#111">
          {ROW_LABELS[p.row]}
        </text>
      )}
    </g>
  );
}

function Legend() {
  const y0 = 73.3, dy = 46.4;
  return (
    <g>
      {SERIES_LABELS.map((lab, k) => {
        const m = marker(k, 1.2);
        const yy = y0 + dy * k;
        return (
          <g key={lab}>
            <path d={m.d} transform={`translate(1060,${yy})`} fill={m.fill} stroke={COLORS[k]} strokeWidth={m.sw * 1.1} />
            <text x={1086} y={yy + 7} style={{ fontFamily: SERIF }} fontSize={20} fill="#111">{lab}</text>
          </g>
        );
      })}
    </g>
  );
}

export default function App() {
  return (
    <svg width={W} height={H} viewBox={`0 0 ${W} ${H}`}
      style={{ position: 'absolute', left: 0, top: 0, background: '#fff' }}>
      <rect x={0} y={0} width={W} height={H} fill="#fff" />
      {PANELS.map((p, i) => <Panel key={i} p={p} idx={i} />)}
      <Legend />
    </svg>
  );
}
